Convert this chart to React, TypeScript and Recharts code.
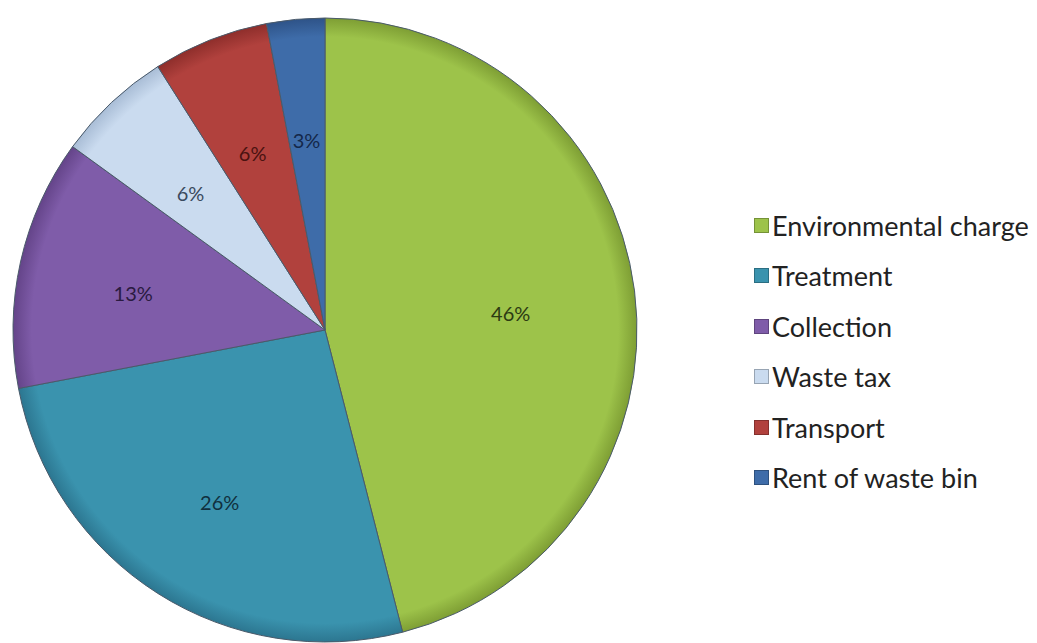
import { Cell, Legend, Pie, PieChart } from 'recharts';

const CATEGORIES = ['Environmental charge', 'Treatment', 'Collection', 'Waste tax', 'Transport', 'Rent of waste bin'];
const SHARES = [46, 26, 13, 6, 6, 3];
const FILLS = ['#9DC34A', '#3A93AE', '#7F5CA9', '#CADBEF', '#B1413D', '#3E6CA9'];
const RIMS = ['#7e9e34', '#2c7690', '#644489', '#a9bdd6', '#8e2e2b', '#2e5388'];
const TEXT_COLORS = ['#2c3a12', '#10303e', '#2a1a40', '#3a4a5e', '#4a1210', '#14284a'];

const DATA = CATEGORIES.map((name, i) => ({ name, value: SHARES[i] }));

const RAD = Math.PI / 180;
const CX = 325;
const CY = 330;
const R = 312;

function renderLabel(props: any) {
  const { cx, cy, midAngle, outerRadius, index, value } = props;
  const r = outerRadius * (index === 0 ? 0.6 : 0.63);
  const x = cx + r * Math.cos(-midAngle * RAD);
  const y = cy + r * Math.sin(-midAngle * RAD) + 6;
  return (
    <text
      x={x}
      y={y}
      fill={TEXT_COLORS[index]}
      textAnchor="middle"
      dominantBaseline="central"
      style={{ fontFamily: 'Lato, "Open Sans", sans-serif', fontSize: 20 }}
    >
      {value}%
    </text>
  );
}

function renderLegend() {
  return (
    <div style={{ fontFamily: 'Lato, "Open Sans", sans-serif', fontSize: 27, color: '#222' }}>
      {CATEGORIES.map((name, i) => (
        <div key={name} style={{ display: 'flex', alignItems: 'center', height: 50.5 }}>
          <span
            style={{
              display: 'inline-block',
              width: 13,
              height: 13,
              background: FILLS[i],
              border: '1px solid rgba(0,0,0,0.25)',
              marginRight: 3,
            }}
          />
          <span>{name}</span>
        </div>
      ))}
    </div>
  );
}

export default function App() {
  return (
    <div style={{ position: 'absolute', left: 0, top: 0, width: 1037, height: 643, background: '#fff' }}>
      <PieChart width={1037} height={643} margin={{ top: 0, right: 0, bottom: 0, left: 0 }}>
        <defs>
          {FILLS.map((f, i) => (
            <radialGradient key={i} id={`slice${i}`} gradientUnits="userSpaceOnUse" cx={CX} cy={CY} r={R}>
              <stop offset="0%" stopColor={f} />
              <stop offset="94%" stopColor={f} />
              <stop offset="100%" stopColor={RIMS[i]} />
            </radialGradient>
          ))}
        </defs>
        <Pie
          data={DATA}
          dataKey="value"
          nameKey="name"
          cx={CX}
          cy={CY}
          outerRadius={R}
          startAngle={90}
          endAngle={-270}
          stroke="#4a5a6a"
          strokeWidth={1}
          label={renderLabel}
          labelLine={false}
          isAnimationActive={false}
        >
          {DATA.map((d, i) => (
            <Cell key={d.name} fill={`url(#slice${i})`} />
          ))}
        </Pie>
        <Legend
          content={renderLegend}
          wrapperStyle={{ position: 'absolute', left: 754, top: 200, width: 283 }}
        />
      </PieChart>
    </div>
  );
}
